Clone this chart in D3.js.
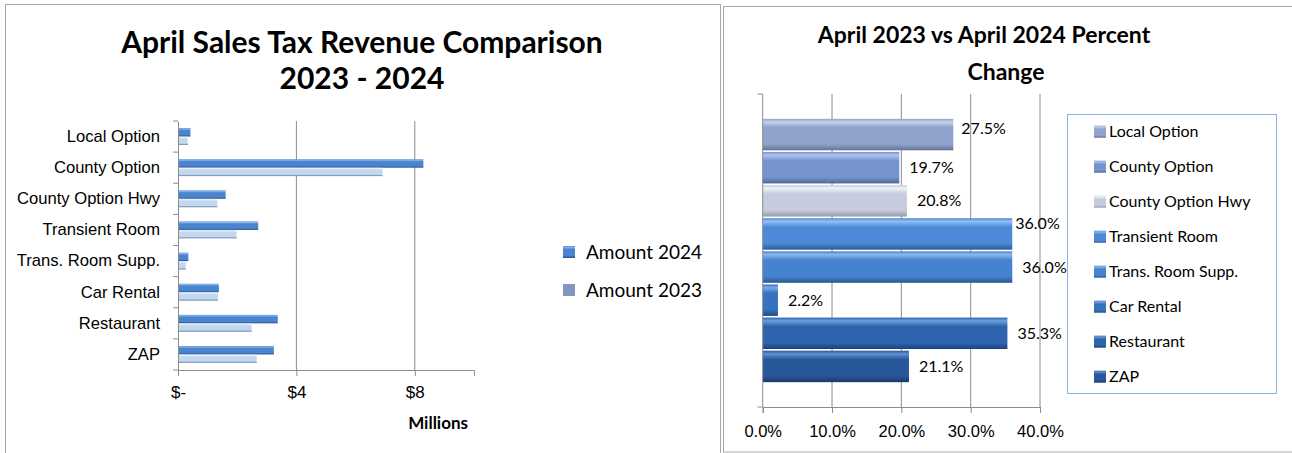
<!DOCTYPE html>
<html>
<head>
<meta charset="utf-8">
<script src="https://cdn.jsdelivr.net/npm/d3@7"></script>
<style>
  html, body { margin: 0; padding: 0; background: #fff; }
  svg { display: block; font-family: Lato, "Open Sans", sans-serif; }
</style>
</head>
<body>
<div id="chart"></div>
<script>
const categories = ['Local Option', 'County Option', 'County Option Hwy', 'Transient Room',
  'Trans. Room Supp.', 'Car Rental', 'Restaurant', 'ZAP'];
// millions of dollars
const amount2024 = [0.42, 8.29, 1.61, 2.71, 0.35, 1.38, 3.37, 3.24];
const amount2023 = [0.33, 6.91, 1.33, 1.98, 0.26, 1.35, 2.49, 2.66];
const amountTicks = [0, 4, 8];
const pctChange = [0.275, 0.197, 0.208, 0.360, 0.360, 0.022, 0.353, 0.211];
const pctTicks = [0, 0.1, 0.2, 0.3, 0.4];

// [light, mid, dark] per series
const seriesColors = {
  '2024': ['#86b7f0', '#4a84cf', '#244e86'],
  '2023': ['#e9f2fc', '#c2d7f0', '#687ba2'],
};
const pctColors = [
  ['#c6d2ea', '#8fa3cc', '#637499'],
  ['#adc4ee', '#7594cf', '#4f6794'],
  ['#f0f2f8', '#c6ccdd', '#959cb1'],
  ['#91c0f2', '#4c89d6', '#2d5a94'],
  ['#8ab9ee', '#4583d0', '#2a568f'],
  ['#78aae6', '#3672be', '#204c86'],
  ['#6e9ede', '#2e64ae', '#1b437b'],
  ['#6291d2', '#28579a', '#17396a'],
];

const W = 1292, H = 453;
const svg = d3.select('#chart').append('svg').attr('width', W).attr('height', H);
const defs = svg.append('defs');

function gradient(id, [light, mid, dark]) {
  const g = defs.append('linearGradient').attr('id', id)
    .attr('x1', 0).attr('y1', 0).attr('x2', 0).attr('y2', 1);
  g.append('stop').attr('offset', '0%').attr('stop-color', mid);
  g.append('stop').attr('offset', '10%').attr('stop-color', light);
  g.append('stop').attr('offset', '28%').attr('stop-color', mid);
  g.append('stop').attr('offset', '80%').attr('stop-color', mid);
  g.append('stop').attr('offset', '100%').attr('stop-color', dark);
  return `url(#${id})`;
}

// panel frames
svg.append('rect').attr('x', 5.5).attr('y', 4.5).attr('width', 715).attr('height', 460)
  .attr('fill', 'none').attr('stroke', '#a6a6a6');
svg.append('rect').attr('x', 723.5).attr('y', 6.5).attr('width', 580).attr('height', 445.5)
  .attr('fill', 'none').attr('stroke', '#a6a6a6');

const gridColor = '#8c8c8c';

// ---------- left: amounts ----------
const left = svg.append('g');
left.append('text').attr('x', 362).attr('y', 53).attr('text-anchor', 'middle')
  .attr('font-size', 30).attr('font-weight', 700).text('April Sales Tax Revenue Comparison');
left.append('text').attr('x', 362).attr('y', 89).attr('text-anchor', 'middle')
  .attr('font-size', 30).attr('font-weight', 700).text('2023 - 2024');

const xL = d3.scaleLinear().domain([0, 10]).range([178, 474]);
const yL = d3.scaleBand().domain(categories).range([121, 370]);
const sub = d3.scaleBand().domain(['2024', '2023']).range([0, yL.bandwidth()]).paddingOuter(0.85);

left.append('g').selectAll('line').data(amountTicks.filter((d) => d > 0)).join('line')
  .attr('x1', (d) => xL(d)).attr('x2', (d) => xL(d))
  .attr('y1', yL.range()[0]).attr('y2', yL.range()[1])
  .attr('stroke', gridColor);

const fillL = {
  '2024': gradient('g2024', seriesColors['2024']),
  '2023': gradient('g2023', seriesColors['2023']),
};
const rows = categories.map((c, i) => ({ c, '2024': amount2024[i], '2023': amount2023[i] }));
['2024', '2023'].forEach((s) => {
  left.append('g').selectAll('rect').data(rows).join('rect')
    .attr('x', xL(0))
    .attr('y', (d) => yL(d.c) + sub(s))
    .attr('width', (d) => xL(d[s]) - xL(0))
    .attr('height', sub.bandwidth())
    .attr('fill', fillL[s]);
});

const xAxisL = left.append('g').attr('transform', `translate(0,${yL.range()[1]})`)
  .call(d3.axisBottom(xL).tickValues(amountTicks).tickSize(6).tickPadding(10)
    .tickFormat((d) => (d === 0 ? '$-' : `$${d}`)));
xAxisL.select('.domain').attr('stroke', gridColor);
xAxisL.selectAll('.tick line').attr('stroke', gridColor);
xAxisL.selectAll('text').attr('font-size', 17).attr('fill', '#000').attr('font-family', null);

const yAxisL = left.append('g').attr('transform', `translate(${xL(0)},0)`)
  .call(d3.axisLeft(yL).tickSize(0).tickPadding(18));
yAxisL.select('.domain').attr('stroke', gridColor);
yAxisL.selectAll('text').attr('font-size', 16.6).attr('fill', '#000').attr('font-family', null);
left.append('g').selectAll('line').data([...categories.map((c) => yL(c)), yL.range()[1]]).join('line')
  .attr('x1', xL(0) - 5).attr('x2', xL(0)).attr('y1', (d) => d).attr('y2', (d) => d)
  .attr('stroke', gridColor);

left.append('text').attr('x', 468).attr('y', 429).attr('text-anchor', 'end')
  .attr('font-size', 17).attr('font-weight', 700).text('Millions');

const legL = left.append('g').selectAll('g')
  .data([['2024', 'Amount 2024'], ['2023', 'Amount 2023']]).join('g')
  .attr('transform', (d, i) => `translate(563,${252 + i * 38})`);
legL.append('rect').attr('x', 0).attr('y', -6).attr('width', 12).attr('height', 12)
  .attr('fill', (d) => (d[0] === '2024' ? fillL['2024'] : '#8297c0'));
legL.append('text').attr('x', 23).attr('dy', '0.35em').attr('font-size', 19).text((d) => d[1]);

// ---------- right: percent change ----------
const right = svg.append('g');
right.append('text').attr('x', 984).attr('y', 43).attr('text-anchor', 'middle')
  .attr('font-size', 23).attr('font-weight', 700).text('April 2023 vs April 2024 Percent');
right.append('text').attr('x', 1006).attr('y', 80).attr('text-anchor', 'middle')
  .attr('font-size', 23).attr('font-weight', 700).text('Change');

const xR = d3.scaleLinear().domain([0, 0.4]).range([762.7, 1040]);
const yR = d3.scaleBand().domain(categories).range([94, 407]).paddingInner(0.05).paddingOuter(0.75);

right.append('g').selectAll('line').data(pctTicks.filter((d) => d > 0)).join('line')
  .attr('x1', (d) => xR(d)).attr('x2', (d) => xR(d)).attr('y1', 94).attr('y2', 407)
  .attr('stroke', gridColor);

const pctRows = categories.map((c, i) => ({ c, v: pctChange[i], fill: gradient(`gp${i}`, pctColors[i]) }));
right.append('g').selectAll('rect').data(pctRows).join('rect')
  .attr('x', xR(0)).attr('y', (d) => yR(d.c))
  .attr('width', (d) => xR(d.v) - xR(0)).attr('height', yR.bandwidth())
  .attr('fill', (d) => d.fill);

// small label nudges where the original labels sit off-centre
const labelNudge = { 'Local Option': [-2, -6], 'Transient Room': [-7, -11] };
right.append('g').selectAll('text').data(pctRows).join('text')
  .attr('x', (d) => xR(d.v) + 10 + (labelNudge[d.c] ? labelNudge[d.c][0] : 0))
  .attr('y', (d) => yR(d.c) + yR.bandwidth() / 2 + (labelNudge[d.c] ? labelNudge[d.c][1] : 0))
  .attr('dy', '0.35em').attr('font-size', 16).text((d) => d3.format('.1%')(d.v));

const xAxisR = right.append('g').attr('transform', 'translate(0,407)')
  .call(d3.axisBottom(xR).tickValues(pctTicks).tickSize(6).tickPadding(12).tickFormat(d3.format('.1%')));
xAxisR.select('.domain').attr('stroke', gridColor);
xAxisR.selectAll('.tick line').attr('stroke', gridColor);
xAxisR.selectAll('text').attr('font-size', 16.5).attr('fill', '#000').attr('font-family', null);
right.append('line').attr('x1', xR(0)).attr('x2', xR(0)).attr('y1', 94).attr('y2', 407).attr('stroke', gridColor);
right.append('g').selectAll('line').data([94, 407]).join('line')
  .attr('x1', xR(0) - 5).attr('x2', xR(0)).attr('y1', (d) => d).attr('y2', (d) => d).attr('stroke', gridColor);

right.append('rect').attr('x', 1067.5).attr('y', 114.5).attr('width', 209).attr('height', 279)
  .attr('fill', '#fff').attr('stroke', '#8eb4e3');
const legR = right.append('g').selectAll('g').data(pctRows).join('g')
  .attr('transform', (d, i) => `translate(1094,${131.7 + i * 35})`);
legR.append('rect').attr('x', 0).attr('y', -6).attr('width', 12).attr('height', 12).attr('fill', (d) => d.fill);
legR.append('text').attr('x', 15).attr('dy', '0.35em').attr('font-size', 16).text((d) => d.c);
</script>
</body>
</html>
